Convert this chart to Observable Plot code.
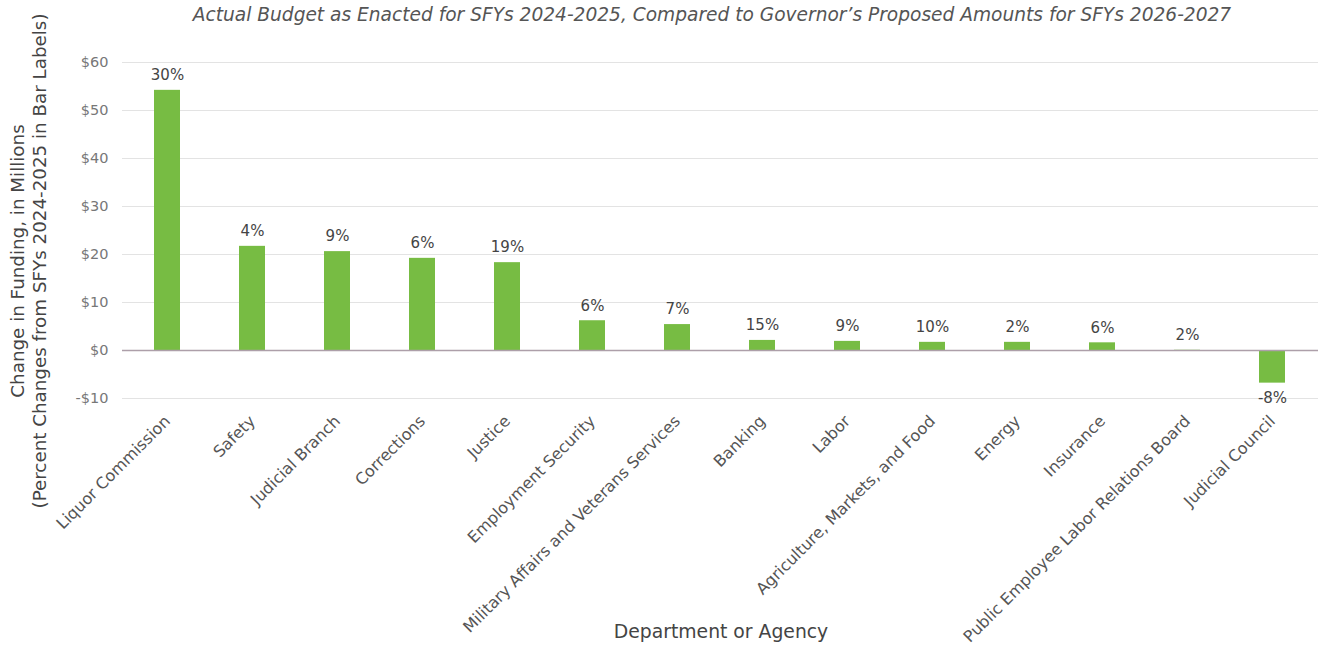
<!DOCTYPE html>
<html>
<head>
<meta charset="utf-8">
<script src="https://cdn.jsdelivr.net/npm/d3@7"></script>
<script src="https://cdn.jsdelivr.net/npm/@observablehq/plot@0.6"></script>
<style>
  html, body { margin: 0; padding: 0; background: #fff; }
  #chart svg { display: block; }
</style>
</head>
<body>
<div id="chart"></div>
<script>
const departments = [
  "Liquor Commission", "Safety", "Judicial Branch", "Corrections", "Justice",
  "Employment Security", "Military Affairs and Veterans Services", "Banking", "Labor",
  "Agriculture, Markets, and Food", "Energy", "Insurance",
  "Public Employee Labor Relations Board", "Judicial Council"
];
const changeMillions = [54.2, 21.7, 20.6, 19.2, 18.3, 6.2, 5.4, 2.1, 1.9, 1.7, 1.7, 1.6, 0.05, -6.8];
const pctLabels = ["30%", "4%", "9%", "6%", "19%", "6%", "7%", "15%", "9%", "10%", "2%", "6%", "2%", "-8%"];
const yTicks = [-10, 0, 10, 20, 30, 40, 50, 60];

const titleText = "Actual Budget as Enacted for SFYs 2024-2025, Compared to Governor\u2019s Proposed Amounts for SFYs 2026-2027";
const yLabel1 = "Change in Funding, in Millions";
const yLabel2 = "(Percent Changes from SFYs 2024-2025 in Bar Labels)";
const xLabel = "Department or Agency";

const data = departments.map((d, i) => ({dept: d, value: changeMillions[i], pct: pctLabels[i]}));

const FONT = "'DejaVu Sans', sans-serif";
const W = 1318, H = 645;

const chart = Plot.plot({
  width: W,
  height: H,
  marginTop: 62,
  marginBottom: 247,
  marginLeft: 122,
  marginRight: 0,
  style: {fontFamily: FONT, background: "#fff"},
  x: {domain: departments, paddingInner: 0.69, paddingOuter: 0.345, label: null},
  y: {domain: [-10, 60], label: null},
  marks: [
    Plot.gridY(yTicks, {stroke: "#e3e3e3", strokeOpacity: 1, strokeWidth: 1}),
    Plot.axisY(yTicks, {
      tickSize: 0, tickPadding: 14, fontSize: 14.5, fill: "#777",
      tickFormat: d => (d < 0 ? "-$" : "$") + Math.abs(d), label: null
    }),
    Plot.barY(data, {x: "dept", y: "value", fill: "#77bc43"}),
    Plot.ruleY([0], {stroke: "#ad9fa9", strokeWidth: 1.5}),
    Plot.text(data.filter(d => d.value >= 0), {
      x: "dept", y: "value", text: "pct", dy: -15, fontSize: 15, fill: "#444"
    }),
    Plot.text(data.filter(d => d.value < 0), {
      x: "dept", y: "value", text: "pct", dy: 15, fontSize: 15, fill: "#444"
    }),
    Plot.axisX({
      tickSize: 0, tickPadding: 20, tickRotate: -45, fontSize: 16, fill: "#555", label: null,
      textAnchor: "end"
    })
  ]
});

const svg = d3.select(chart);
svg.append("text")
  .attr("x", 712).attr("y", 21)
  .attr("text-anchor", "middle")
  .attr("font-family", FONT).attr("font-style", "italic")
  .attr("font-size", 18.6).attr("fill", "#555")
  .text(titleText);

svg.append("text")
  .attr("transform", "translate(24,261) rotate(-90)")
  .attr("text-anchor", "middle")
  .attr("font-family", FONT).attr("font-size", 18.3).attr("fill", "#444")
  .text(yLabel1);
svg.append("text")
  .attr("transform", "translate(46,261) rotate(-90)")
  .attr("text-anchor", "middle")
  .attr("font-family", FONT).attr("font-size", 18.3).attr("fill", "#444")
  .text(yLabel2);

svg.append("text")
  .attr("x", 721).attr("y", 638)
  .attr("text-anchor", "middle")
  .attr("font-family", FONT).attr("font-size", 18.8).attr("fill", "#444")
  .text(xLabel);

document.getElementById("chart").appendChild(chart);
</script>
</body>
</html>
